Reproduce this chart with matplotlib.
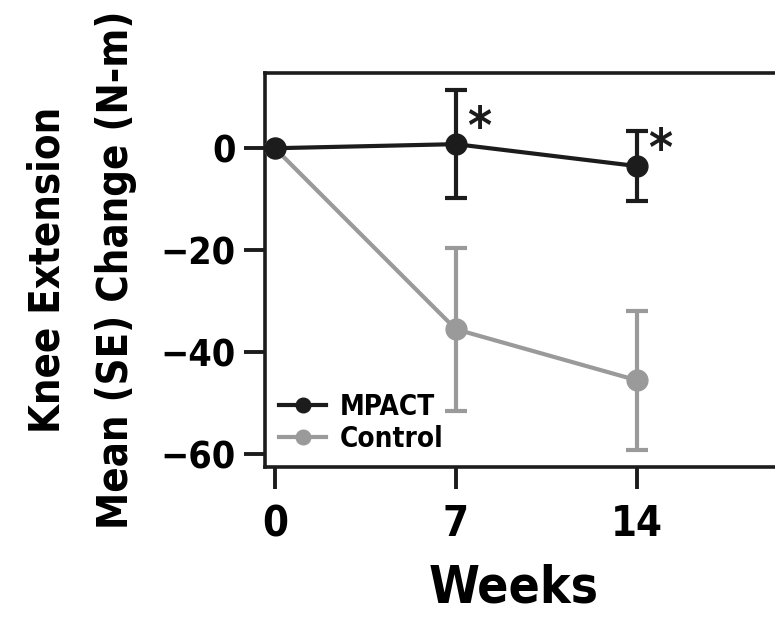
import matplotlib.pyplot as plt

plt.rcParams['font.family'] = ['DejaVu Sans']
plt.rcParams['font.stretch'] = 'condensed'
plt.rcParams['font.weight'] = 'bold'
plt.rcParams['axes.labelweight'] = 'bold'

weeks = [0, 7, 14]
mpact_mean = [0, 0.8, -3.5]
mpact_se = [0, 10.6, 6.9]
control_mean = [0, -35.5, -45.5]
control_se = [0, 16.0, 13.6]

black = '#1c1c1c'
gray = '#9a9a9a'

fig = plt.figure(figsize=(7.75, 6.24), dpi=100)
ax = fig.add_axes([0.342, 0.2516, 0.69, 0.631])

ax.errorbar(weeks[1:], control_mean[1:], yerr=control_se[1:], fmt='none',
            ecolor=gray, elinewidth=3, capsize=8, capthick=3, zorder=2)
ax.plot(weeks, control_mean, color=gray, lw=3, marker='o', ms=15,
        label='Control', zorder=3)
ax.errorbar(weeks[1:], mpact_mean[1:], yerr=mpact_se[1:], fmt='none',
            ecolor=black, elinewidth=3, capsize=8, capthick=3, zorder=4)
ax.plot(weeks, mpact_mean, color=black, lw=3, marker='o', ms=15,
        label='MPACT', zorder=5)

# significance markers
ax.text(7.45, mpact_mean[1] + 3.0, '*', fontsize=37, color=black,
        ha='left', va='center')
ax.text(14.45, mpact_mean[2] + 3.0, '*', fontsize=37, color=black,
        ha='left', va='center')

ax.set_xlim(-0.38, 20.3)
ax.set_ylim(-62.5, 14.7)
ax.set_xticks(weeks)
ax.set_xticklabels(['0', '7', '14'], fontsize=30)
ax.set_yticks([0, -20, -40, -60])
ax.set_yticklabels(['0', '\u221220', '\u221240', '\u221260'], fontsize=27)
ax.tick_params(direction='out', length=15, width=2.8, color=black, pad=6)
ax.tick_params(axis='x', length=16, pad=10)

for s in ax.spines.values():
    s.set_linewidth(2.6)
    s.set_color(black)

ax.set_xlabel('Weeks', fontsize=37)
ax.xaxis.set_label_coords(0.464, -0.245)
ax.set_ylabel('Knee Extension\nMean (SE) Change (N-m)', fontsize=30,
              linespacing=1.8)
ax.yaxis.set_label_coords(-0.24, 0.5)

h, l = ax.get_legend_handles_labels()
leg = ax.legend(h[::-1], l[::-1], loc='lower left', frameon=False,
                fontsize=20, markerscale=0.7, handlelength=1.7,
                handletextpad=0.5, labelspacing=0.15, borderaxespad=0.1)

fig.savefig('out.png', dpi=100)
